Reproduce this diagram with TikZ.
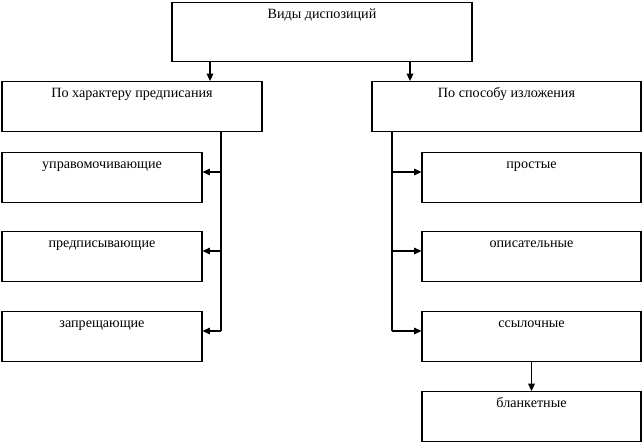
\documentclass[tikz,border=0pt]{standalone}
\usepackage{fontspec}
\setmainfont{Liberation Serif}
\usetikzlibrary{arrows.meta}
\tikzset{
  box/.style={draw, line width=0.85pt, anchor=north, inner xsep=2pt, inner ysep=0pt,
    text height=12pt, text depth=25.5pt, font=\fontsize{10.6}{12}\selectfont},
  arr/.style={line width=0.85pt, -{Triangle[length=5.5pt,width=5pt]}},
  trunk/.style={line width=0.85pt}
}
\begin{document}
\begin{tikzpicture}[x=0.75pt,y=-0.75pt]
\useasboundingbox (0,0) rectangle (642,442);
\node[box, minimum width=225pt, text depth=32.25pt] (vid) at (322,2) {Виды диспозиций};
\node[box, minimum width=195pt] (harakter) at (132,81) {По характеру предписания};
\node[box, minimum width=201.75pt] (sposob) at (506.5,81) {По способу изложения};

\node[box, minimum width=150pt] (upr) at (102,152) {управомочивающие};
\node[box, minimum width=150pt] (pred) at (102,231) {предписывающие};
\node[box, minimum width=150pt] (zapr) at (102,311) {запрещающие};

\node[box, minimum width=164.25pt] (prost) at (531.5,152) {простые};
\node[box, minimum width=164.25pt] (opis) at (531.5,231) {описательные};
\node[box, minimum width=164.25pt] (ssyl) at (531.5,311) {ссылочные};
\node[box, minimum width=164.25pt] (blank) at (531.5,391) {бланкетные};

% from the top box
\draw[arr] ([xshift=-84pt]vid.south) -- ([xshift=-84pt]vid.south |- harakter.north);
\draw[arr] ([xshift=66pt]vid.south) -- ([xshift=66pt]vid.south |- sposob.north);

% left trunk
\coordinate (lt) at (221,131);
\foreach \c in {upr,pred,zapr}
  \path ([yshift=-15pt]\c.north east) coordinate (\c-in);
\draw[trunk] (lt) -- (lt |- zapr-in);
\foreach \c in {upr,pred,zapr}
  \draw[arr] (lt |- \c-in) -- (\c-in);

% right trunk
\coordinate (rt) at (392,131);
\foreach \c in {prost,opis,ssyl}
  \path ([yshift=-15pt]\c.north west) coordinate (\c-in);
\draw[trunk] (rt) -- (rt |- ssyl-in);
\foreach \c in {prost,opis,ssyl}
  \draw[arr] (rt |- \c-in) -- (\c-in);

\draw[arr] (ssyl.south) -- (blank.north);
\end{tikzpicture}
\end{document}
